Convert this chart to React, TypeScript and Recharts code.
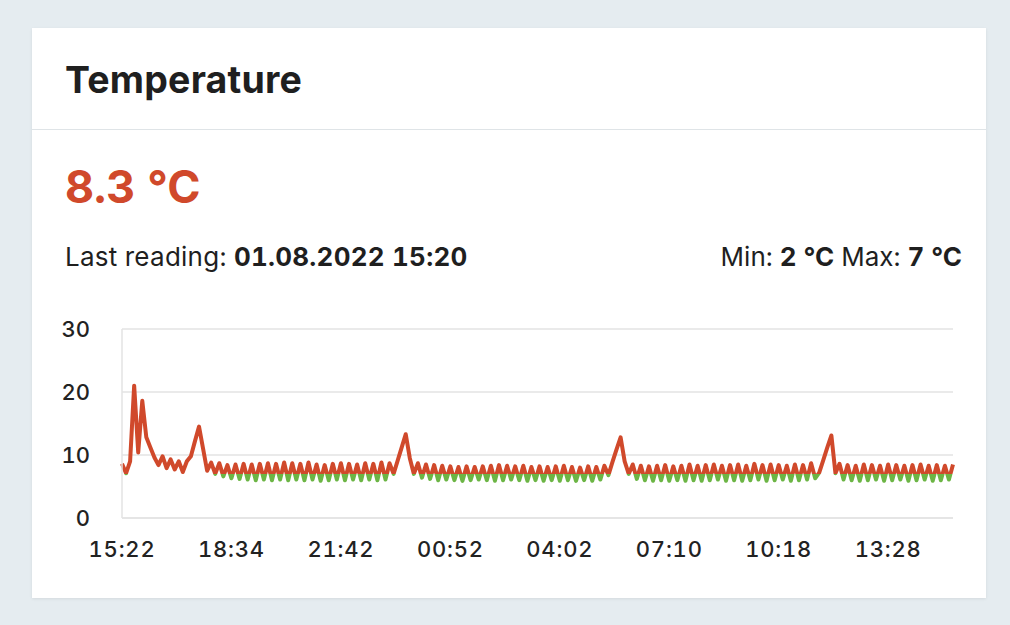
import React from 'react';
import { LineChart, Line, XAxis, YAxis, CartesianGrid } from 'recharts';

const temperatures: number[] = [
  8.6, 7.1, 9.0, 21.0, 10.4, 18.6, 12.8, 11.2, 9.6, 8.4,
  9.8, 7.9, 9.3, 7.7, 9.0, 7.3, 9.0, 9.8, 12.2, 14.5,
  11.0, 7.5, 8.8, 7.0, 8.7, 6.6, 8.4, 6.3, 8.5, 6.2,
  8.6, 6.1, 8.5, 6.0, 8.6, 6.1, 8.7, 6.0, 8.6, 6.1,
  8.8, 6.0, 8.7, 6.1, 8.6, 6.0, 8.8, 6.1, 8.5, 5.9,
  8.4, 6.0, 8.6, 6.1, 8.7, 6.0, 8.6, 6.1, 8.5, 6.0,
  8.7, 6.1, 8.6, 6.0, 8.8, 6.1, 8.7, 7.0, 9.1, 11.2,
  13.3, 9.5, 7.0, 8.7, 6.4, 8.5, 6.2, 8.4, 6.0, 8.3,
  6.1, 8.2, 6.0, 8.1, 5.9, 8.2, 6.0, 8.1, 6.1, 8.2,
  6.0, 8.3, 5.9, 8.4, 6.0, 8.3, 6.1, 8.2, 6.0, 8.3,
  5.9, 8.1, 6.0, 8.2, 5.9, 8.1, 6.0, 8.2, 5.9, 8.3,
  6.0, 8.1, 5.9, 8.0, 6.0, 8.2, 5.9, 8.1, 6.1, 8.3,
  6.8, 8.9, 10.9, 12.8, 9.0, 7.0, 8.5, 6.2, 8.3, 6.0,
  8.2, 5.9, 8.3, 6.0, 8.4, 5.9, 8.2, 6.0, 8.3, 5.9,
  8.5, 6.0, 8.3, 5.9, 8.4, 6.0, 8.5, 6.1, 8.3, 5.9,
  8.4, 6.0, 8.5, 5.9, 8.3, 6.0, 8.6, 6.1, 8.4, 5.9,
  8.5, 6.0, 8.4, 6.1, 8.3, 5.9, 8.5, 6.0, 8.4, 6.1,
  8.7, 6.3, 7.2, 9.2, 11.2, 13.1, 7.1, 8.6, 6.1, 8.4,
  6.0, 8.3, 5.9, 8.5, 6.0, 8.4, 6.1, 8.3, 5.9, 8.5,
  6.0, 8.4, 6.1, 8.3, 5.9, 8.4, 6.0, 8.5, 6.1, 8.3,
  5.9, 8.4, 6.0, 8.3, 6.1, 8.5,
];

// reading index of each x-axis label and its time text
const tickIndexes: number[] = [0, 27, 54, 81, 108, 135, 162, 189];
const tickLabels: string[] = ['15:22', '18:34', '21:42', '00:52', '04:02', '07:10', '10:18', '13:28'];
const yTicks: number[] = [0, 10, 20, 30];
const threshold = 7;

const data = temperatures.map((v, i) => ({ i, v }));
const maxV = Math.max(...temperatures);
const minV = Math.min(...temperatures);
const off = (maxV - threshold) / (maxV - minV);

const FONT = 'Inter, "Open Sans", sans-serif';
const RED = '#d0492b';
const GREEN = '#6cb545';

export default function App() {
  return (
    <div style={{ position: 'fixed', left: 0, top: 0, width: 1010, height: 625, background: '#e5ecf0', fontFamily: FONT, color: '#1f1f1f', fontVariantNumeric: 'tabular-nums' }}>
      <div style={{ position: 'absolute', left: 32, top: 28, width: 954, height: 570, background: '#ffffff', boxShadow: '0 1px 3px rgba(0,0,0,0.08)' }}>
        <div style={{ position: 'absolute', left: 33, top: 33, fontSize: 37.5, fontWeight: 700, lineHeight: 1, letterSpacing: 0.2 }}>Temperature</div>
        <div style={{ position: 'absolute', left: 0, top: 101, width: 954, height: 1, background: '#dfe4e7' }} />
        <div style={{ position: 'absolute', left: 33, top: 136, fontSize: 45, fontWeight: 700, lineHeight: 1, color: RED }}>8.3 °C</div>
        <div style={{ position: 'absolute', left: 33, top: 216, fontSize: 26, lineHeight: 1, letterSpacing: 0.25 }}>
          Last reading: <b>01.08.2022 15:20</b>
        </div>
        <div style={{ position: 'absolute', right: 24, top: 216, fontSize: 26, lineHeight: 1 }}>
          Min: <b>2 °C</b> Max: <b>7 °C</b>
        </div>
        <div style={{ position: 'absolute', left: 0, top: 272 }}>
          <LineChart width={954} height={290} data={data} margin={{ top: 29, right: 33, bottom: 32, left: 0 }}>
            <defs>
              <linearGradient id="tempSplit" x1="0" y1="0" x2="0" y2="1">
                <stop offset={off} stopColor={RED} />
                <stop offset={off} stopColor={GREEN} />
              </linearGradient>
            </defs>
            <CartesianGrid vertical={false} stroke="#e3e3e3" strokeWidth={1.5} />
            <XAxis
              dataKey="i"
              type="number"
              domain={[0, temperatures.length - 1]}
              ticks={tickIndexes}
              tickFormatter={(v: number) => tickLabels[tickIndexes.indexOf(v)]}
              tickLine={false}
              axisLine={{ stroke: '#e3e3e3', strokeWidth: 1.5 }}
              tick={{ fontSize: 22, fill: '#222', fontWeight: 500, fontFamily: FONT, letterSpacing: 0.8 }}
              tickMargin={17}
              height={40}
              interval={0}
            />
            <YAxis
              domain={[0, 30]}
              ticks={yTicks}
              tickLine={false}
              axisLine={{ stroke: '#e3e3e3', strokeWidth: 1.5 }}
              tick={{ fontSize: 22, fill: '#222', fontWeight: 500, fontFamily: FONT }}
              tickMargin={26}
              width={90}
            />
            <Line
              type="linear"
              dataKey="v"
              stroke="url(#tempSplit)"
              strokeWidth={4}
              dot={false}
              activeDot={false}
              strokeLinejoin="round"
              isAnimationActive={false}
            />
          </LineChart>
        </div>
      </div>
    </div>
  );
}
